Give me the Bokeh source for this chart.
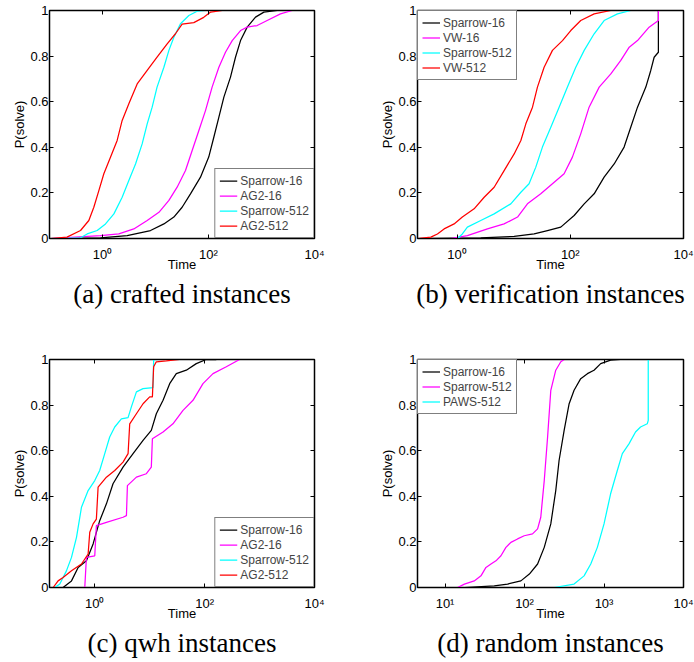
from bokeh.plotting import figure
from bokeh.models import FixedTicker, LogAxis, LinearAxis, Title, Range1d
from bokeh.layouts import column, row
from bokeh.embed import file_html
from bokeh.resources import INLINE

# ---------------- data (time in seconds, P(solve)) ----------------
# (a) crafted instances
a_sp16_t = [0.105, 0.916, 2.92, 8.05, 14.4, 22.2, 31.8, 45.7, 70.6, 101, 126, 157, 195, 260, 323, 402, 537, 771, 1110, 1980]
a_sp16_p = [0, 0.003, 0.013, 0.035, 0.064, 0.094, 0.137, 0.196, 0.269, 0.357, 0.444, 0.532, 0.62, 0.708, 0.795, 0.868, 0.927, 0.971, 0.993, 1.0]
a_ag16_t = [0.105, 0.916, 2.03, 3.9, 6.97, 11.6, 17.9, 25.6, 36.8, 49.2, 65.8, 87.7, 117, 157, 209, 280, 402, 537, 828, 1280, 2280, 3790]
a_ag16_p = [0, 0.013, 0.02, 0.042, 0.079, 0.115, 0.167, 0.225, 0.298, 0.386, 0.474, 0.561, 0.664, 0.751, 0.817, 0.868, 0.912, 0.927, 0.934, 0.956, 0.985, 1.0]
a_sp512_t = [0.105, 0.385, 0.514, 0.793, 1.14, 1.64, 2.35, 3.14, 4.2, 5.6, 6.97, 8.65, 10.7, 14.4, 17.9, 22.2, 29.6, 42.6, 61.1, 87.1]
a_sp512_p = [0, 0.003, 0.02, 0.035, 0.064, 0.108, 0.181, 0.254, 0.327, 0.415, 0.503, 0.576, 0.664, 0.751, 0.825, 0.883, 0.942, 0.978, 0.997, 1.0]
a_ag512_t = [0.105, 0.214, 0.385, 0.552, 0.686, 0.853, 1.06, 1.42, 1.89, 2.35, 3.14, 4.51, 6.97, 10.7, 16.6, 23.8, 31.8, 52.8, 81.3, 110, 182]
a_ag512_p = [0, 0.006, 0.035, 0.079, 0.137, 0.21, 0.284, 0.357, 0.43, 0.518, 0.591, 0.678, 0.737, 0.795, 0.854, 0.898, 0.94, 0.947, 0.97, 0.993, 1.0]

# (b) verification instances
b_sp16_t = [0.2, 2.62, 10.2, 23, 39.5, 67.9, 117, 176, 264, 396, 596, 893, 1170, 1540, 2160, 2640, 3030, 3600, 3600]
b_sp16_p = [0, 0.003, 0.009, 0.02, 0.035, 0.05, 0.101, 0.152, 0.196, 0.269, 0.327, 0.401, 0.488, 0.576, 0.664, 0.737, 0.795, 0.817, 1.0]
b_vw16_t = [0.2, 0.774, 1.52, 3.44, 6.78, 11.7, 17.5, 30.1, 48.4, 77.8, 109, 153, 215, 324, 520, 780, 1100, 1540, 2470, 3600, 3600]
b_vw16_p = [0, 0, 0.013, 0.042, 0.064, 0.094, 0.152, 0.196, 0.24, 0.284, 0.357, 0.459, 0.576, 0.664, 0.722, 0.781, 0.839, 0.868, 0.927, 0.956, 1.0]
b_sp512_t = [0.2, 1.02, 1.24, 1.52, 2.62, 4.52, 8.89, 13.4, 18.7, 24.6, 32.2, 45.3, 63.5, 89.1, 125, 176, 264, 396, 682, 1170]
b_sp512_p = [0, 0, 0.02, 0.05, 0.079, 0.108, 0.152, 0.203, 0.24, 0.313, 0.401, 0.488, 0.576, 0.664, 0.751, 0.825, 0.898, 0.956, 0.985, 1.0]
b_vw512_t = [0.2, 0.344, 0.45, 0.59, 0.887, 1.24, 2.0, 3.01, 4.52, 6.78, 10.2, 13.4, 16.4, 21.5, 26.3, 34.5, 48.4, 72.8, 102, 153, 264, 520]
b_vw512_p = [0, 0.006, 0.02, 0.042, 0.064, 0.094, 0.13, 0.181, 0.225, 0.298, 0.371, 0.43, 0.503, 0.576, 0.664, 0.751, 0.825, 0.868, 0.912, 0.956, 0.985, 1.0]

# (c) qwh instances
c_sp16_t = [0.265, 0.377, 0.498, 0.705, 0.933, 1.23, 1.63, 2.15, 3.27, 4.98, 7.57, 10.7, 13.2, 17.5, 23.1, 30.5, 46.4, 70.5, 107, 163]
c_sp16_p = [0, 0.029, 0.088, 0.117, 0.191, 0.293, 0.367, 0.455, 0.528, 0.587, 0.645, 0.689, 0.762, 0.821, 0.894, 0.938, 0.953, 0.982, 1.0, 1.0]
c_ag16_t = [0.498, 0.658, 0.705, 1.0, 1.07, 1.63, 3.27, 3.77, 3.93, 5.73, 8.69, 10.7, 11.2, 17.5, 26.5, 40.4, 61.4, 93.3, 142, 248, 433]
c_ag16_p = [0, 0, 0.132, 0.139, 0.271, 0.286, 0.308, 0.315, 0.447, 0.484, 0.499, 0.528, 0.652, 0.682, 0.718, 0.777, 0.821, 0.894, 0.938, 0.968, 1.0]
c_sp512_t = [0.187, 0.231, 0.305, 0.377, 0.465, 0.573, 0.757, 1.0, 1.23, 1.52, 1.87, 2.31, 3.05, 4.04, 4.64, 5.73, 7.57, 11.5, 11.8, 12.3]
c_sp512_p = [0, 0.015, 0.073, 0.132, 0.22, 0.352, 0.425, 0.469, 0.513, 0.587, 0.66, 0.704, 0.74, 0.745, 0.792, 0.858, 0.872, 0.877, 0.997, 1.0]
c_ag512_t = [0.175, 0.215, 0.265, 0.377, 0.573, 0.757, 0.811, 0.933, 1.07, 1.15, 1.63, 2.31, 3.27, 4.04, 4.33, 5.73, 7.57, 10.0, 11.2, 11.8, 13.2, 20.1, 35.1]
c_ag512_p = [0, 0.029, 0.044, 0.073, 0.103, 0.147, 0.242, 0.279, 0.3, 0.44, 0.484, 0.513, 0.55, 0.587, 0.718, 0.762, 0.806, 0.836, 0.836, 0.968, 0.99, 0.994, 1.0]

# (d) random instances
d_sp16_t = [4.54, 17.5, 41.6, 61.2, 89.9, 115, 146, 177, 214, 247, 272, 315, 364, 420, 509, 618, 748, 908, 1210, 1620]
d_sp16_p = [0, 0, 0.007, 0.015, 0.029, 0.059, 0.103, 0.176, 0.279, 0.425, 0.557, 0.689, 0.806, 0.865, 0.916, 0.938, 0.953, 0.982, 0.997, 1.0]
d_sp512_t = [4.54, 14.4, 17.5, 23.3, 28.3, 32.7, 37.8, 43.7, 50.5, 58.3, 67.3, 81.7, 99.1, 126, 146, 160, 177, 195, 214, 247, 286, 315]
d_sp512_p = [0, 0, 0.015, 0.029, 0.051, 0.088, 0.103, 0.117, 0.139, 0.176, 0.198, 0.213, 0.227, 0.235, 0.257, 0.308, 0.469, 0.66, 0.865, 0.953, 0.99, 1.0]
d_paws_t = [236, 420, 561, 681, 824, 1000, 1210, 1470, 1700, 2060, 2490, 2880, 3500, 3600, 3600]
d_paws_p = [0, 0.015, 0.051, 0.103, 0.176, 0.279, 0.411, 0.513, 0.587, 0.63, 0.682, 0.704, 0.718, 0.733, 1.0]

# ticks / labels
x_ticks_abc = [1, 100, 10000]
x_labels_abc = ["10⁰", "10²", "10⁴"]
x_ticks_d = [10, 100, 1000, 10000]
x_labels_d = ["10¹", "10²", "10³", "10⁴"]
y_ticks = [0, 0.2, 0.4, 0.6, 0.8, 1]
y_labels = ["0", "0.2", "0.4", "0.6", "0.8", "1"]

captions = ["(a) crafted instances", "(b) verification instances",
            "(c) qwh instances", "(d) random instances"]

SANS = "Liberation Sans"
SERIF = "Liberation Serif"


def panel(series, xmin, xt, xl, legend_loc, caption, width, height,
          bl, br, bt, bb):
    p = figure(width=width, height=height, x_axis_type="log",
               x_range=Range1d(xmin, 10000), y_range=Range1d(0, 1),
               output_backend="svg", toolbar_location=None,
               min_border_left=bl, min_border_right=br,
               min_border_top=bt, min_border_bottom=bb)
    p.grid.visible = False
    p.outline_line_color = "black"
    p.outline_line_width = 1.5
    p.background_fill_color = "white"
    p.border_fill_color = "white"

    for t, pr, color, name in series:
        p.line(t, pr, line_color=color, line_width=1.25, legend_label=name)

    xax = p.xaxis[0]
    xax.ticker = FixedTicker(ticks=xt, minor_ticks=[])
    xax.major_label_overrides = dict(zip(xt, xl))
    xax.axis_label = "Time"
    yax = p.yaxis[0]
    yax.ticker = FixedTicker(ticks=y_ticks, minor_ticks=[])
    yax.major_label_overrides = dict(zip(y_ticks, y_labels))
    yax.axis_label = "P(solve)"

    for ax in (xax, yax):
        ax.major_tick_in = 4
        ax.major_tick_out = 0
        ax.minor_tick_line_color = None
        ax.axis_line_color = "black"
        ax.major_tick_line_color = "black"
        ax.major_label_text_font = SANS
        ax.major_label_text_font_size = "13px"
        ax.major_label_text_color = "black"
        ax.axis_label_text_font = SANS
        ax.axis_label_text_font_size = "13px"
        ax.axis_label_text_font_style = "normal"
        ax.axis_label_text_color = "black"
    xax.major_label_standoff = 8
    xax.axis_label_standoff = -8
    yax.major_label_standoff = 1
    yax.axis_label_standoff = 0

    top = LogAxis(ticker=FixedTicker(ticks=xt, minor_ticks=[]))
    right = LinearAxis(ticker=FixedTicker(ticks=y_ticks, minor_ticks=[]))
    for ax in (top, right):
        ax.major_tick_in = 4
        ax.major_tick_out = 0
        ax.minor_tick_line_color = None
        ax.major_label_text_font_size = "1px"
        ax.major_label_text_color = None
        ax.major_label_standoff = 0
        ax.axis_line_color = "black"
    p.add_layout(top, "above")
    p.add_layout(right, "right")

    lg = p.legend[0]
    lg.location = legend_loc
    lg.margin = 0
    lg.padding = 4
    lg.spacing = 0
    lg.label_height = 15
    lg.glyph_height = 15
    lg.glyph_width = 18
    lg.label_standoff = 3
    lg.label_text_font = SANS
    lg.label_text_font_size = "12px"
    lg.border_line_color = "black"
    lg.border_line_width = 1
    lg.background_fill_alpha = 1

    p.add_layout(Title(text=caption, align="center", standoff=5, offset=-6,
                       text_font=SERIF, text_font_size="27px",
                       text_font_style="normal", text_color="black"), "below")
    return p


K, M, C, R = "#000000", "#ff00ff", "#00ffff", "#ff0000"

pa = panel([(a_sp16_t, a_sp16_p, K, "Sparrow-16"), (a_ag16_t, a_ag16_p, M, "AG2-16"),
            (a_sp512_t, a_sp512_p, C, "Sparrow-512"), (a_ag512_t, a_ag512_p, R, "AG2-512")],
           0.1, x_ticks_abc, x_labels_abc, "bottom_right", captions[0],
           347, 348, 49, 33, 10, 110)
pb = panel([(b_sp16_t, b_sp16_p, K, "Sparrow-16"), (b_vw16_t, b_vw16_p, M, "VW-16"),
            (b_sp512_t, b_sp512_p, C, "Sparrow-512"), (b_vw512_t, b_vw512_p, R, "VW-512")],
           0.2, x_ticks_abc, x_labels_abc, "top_left", captions[1],
           347, 348, 70, 11, 10, 110)
pc = panel([(c_sp16_t, c_sp16_p, K, "Sparrow-16"), (c_ag16_t, c_ag16_p, M, "AG2-16"),
            (c_sp512_t, c_sp512_p, C, "Sparrow-512"), (c_ag512_t, c_ag512_p, R, "AG2-512")],
           0.15, x_ticks_abc, x_labels_abc, "bottom_right", captions[2],
           347, 314, 49, 33, 11, 75)
pd_ = panel([(d_sp16_t, d_sp16_p, K, "Sparrow-16"), (d_sp512_t, d_sp512_p, M, "Sparrow-512"),
             (d_paws_t, d_paws_p, C, "PAWS-512")],
            4.5, x_ticks_d, x_labels_d, "top_left", captions[3],
            347, 314, 70, 11, 11, 75)

layout = column(row(pa, pb), row(pc, pd_))
open("out.html", "w").write(file_html(layout, INLINE))
